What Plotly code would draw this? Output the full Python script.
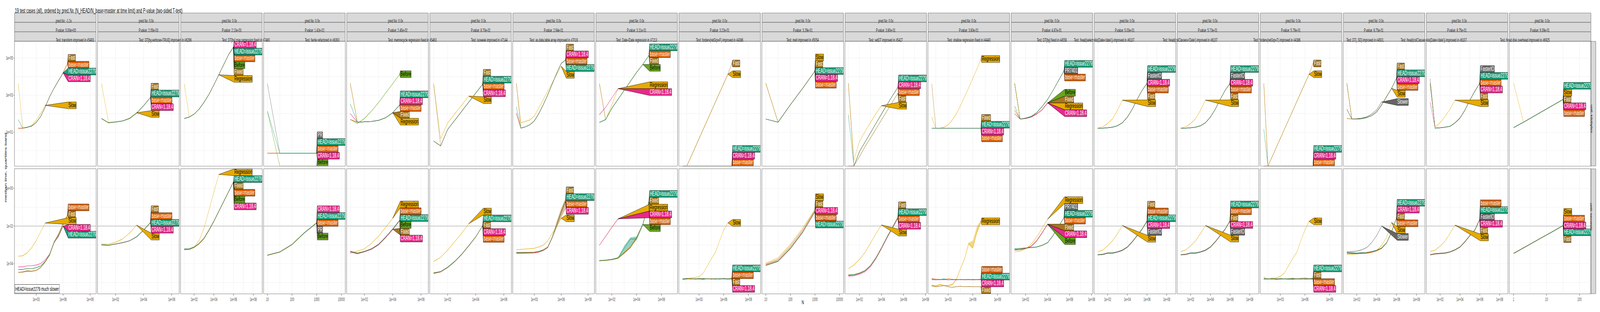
import math
import plotly.graph_objects as go

H = "HEAD=issue2279"
B = "base=master"
C = "CRAN=1.18.4"
Z = float("-inf")  # 0 kilobytes: log10(0), drawn on the panel floor like ggplot does

# N values (the kinks along each line)
N_half = [10, 31.62, 100, 316.2, 1000, 3162, 1e4, 3.162e4, 1e5, 3.162e5, 1e6, 3.162e6, 1e7]
N_pow2 = [1, 2, 4, 8, 16, 32]

test_names = [
    "transform improved in #5493",
    "DT[by,verbose=TRUE] improved in #6296",
    "DT[by] max regression fixed in #7480",
    "fwrite refactored in #6393",
    "memrecycle regression fixed in #5463",
    "isoweek improved in #7144",
    "as.data.table.array improved in #7019",
    "Date-IDate regression in #7213",
    "forderv(retGrp=F) improved in #4386",
    "melt improved in #5054",
    "setDT improved in #5427",
    "shallow regression fixed in #4440",
    "DT[by] fixed in #4558",
    "fread(select=list(Date='date')) improved in #6107",
    "fread(colClasses='Date') improved in #6107",
    "forderv(retGrp=T) improved in #4386",
    "DT[,.SD] improved in #4501",
    "fread(colClasses=list(Date='date')) improved in #6107",
    "fread disk overhead improved in #6925",
]
pred_nx = ["-1.2x"] + ["0.0x"] * 18
p_values = ["0.00e+00", "2.05e-03", "2.13e-03", "1.42e-02", "2.45e-02", "8.70e-02",
            "2.94e-01", "3.11e-01", "3.22e-01", "3.29e-01", "3.80e-01", "3.80e-01",
            "4.87e-01", "5.03e-01", "5.73e-01", "5.79e-01", "6.75e-01", "8.75e-01", "9.39e-01"]

x_tick_labels = [
    ["1e+03", "1e+06", "1e+09"],
    ["1e+02", "1e+04", "1e+06"],
    ["1e+02", "1e+04", "1e+06", "1e+08"],
    ["10", "100", "1000", "10000"],
    ["1e+02", "1e+04", "1e+06"],
    ["1e+02", "1e+04", "1e+06"],
    ["1e+03", "1e+06", "1e+09"],
    ["1e+02", "1e+04", "1e+06"],
    ["1e+03", "1e+06", "1e+09"],
    ["10", "100", "1000", "10000"],
    ["1e+02", "1e+04", "1e+06", "1e+08"],
    ["1e+03", "1e+06", "1e+09"],
    ["1e+02", "1e+04", "1e+06", "1e+08"],
    ["1e+02", "1e+04", "1e+06", "1e+08"],
    ["1e+02", "1e+04", "1e+06", "1e+08"],
    ["1e+03", "1e+06", "1e+09"],
    ["1e+02", "1e+04", "1e+06", "1e+08"],
    ["1e+02", "1e+04", "1e+06", "1e+08"],
    ["1", "10", "100"],
]
y_tick_labels = [["1e+01", "1e+03", "1e+05"], ["1e-04", "1e-02", "1e+00"]]
seconds_limit = 0.01
unit_names = ["unit: kilobytes", "unit: seconds"]

# medians as log10(kilobytes) / log10(seconds); dict order = direct label order, top to bottom
t01_kb = {
    "Fast": [1.22, 1.22, 1.27, 1.33, 1.52, 1.85, 2.35, 2.92, 3.38, 3.80, 4.21, 4.72],
    B: [1.22, 1.22, 1.27, 1.33, 1.52, 1.85, 2.35, 2.92, 3.38, 3.80, 4.21, 4.71],
    H: [1.68, 1.22, 1.27, 1.33, 1.52, 1.85, 2.35, 2.92, 3.38, 3.80, 4.21],
    C: [1.22, 1.22, 1.27, 1.33, 1.52, 1.85, 2.35, 2.92, 3.38, 3.80, 4.20],
    "Slow": [3.64, 1.22, 1.25, 1.37, 1.64, 2.02, 2.45],
}
t01_sec = {
    B: [-4.32, -4.30, -4.26, -4.26, -4.21, -4.12, -3.88, -3.51, -2.84, -2.48, -1.98, -1.40],
    "Fast": [-4.46, -4.44, -4.39, -4.40, -4.36, -4.20, -3.91, -3.53, -2.87, -2.45, -1.86, -1.42],
    "Slow": [-3.60, -3.58, -3.42, -3.15, -2.77, -2.30, -1.84],
    C: [-4.17, -4.17, -4.11, -4.11, -4.07, -3.99, -3.80, -3.49, -2.85, -2.55, -2.01],
    H: [-4.32, -4.30, -4.26, -4.26, -4.21, -4.12, -3.88, -3.51, -2.84, -2.50, -2.00],
}
t02_kb = {
    "Fast": [1.74, 1.51, 1.55, 1.61, 1.74, 2.03, 2.43, 2.89],
    H: [1.74, 1.51, 1.55, 1.61, 1.74, 2.03, 2.43, 2.89],
    B: [1.74, 1.51, 1.55, 1.61, 1.74, 2.03, 2.43, 2.89],
    C: [1.74, 1.51, 1.55, 1.61, 1.74, 2.03, 2.43, 2.89],
    "Slow": [3.62, 1.53, 1.56, 1.61, 1.76, 2.05],
}
t02_sec = {
    "Fast": [-2.99, -3.02, -2.95, -2.88, -2.78, -2.57, -2.21, -1.79],
    B: [-2.99, -3.02, -2.95, -2.88, -2.78, -2.57, -2.21, -1.80],
    H: [-2.99, -3.02, -2.95, -2.88, -2.78, -2.57, -2.21, -1.81],
    C: [-3.01, -3.03, -2.96, -2.89, -2.79, -2.58, -2.22, -1.82],
    "Slow": [-2.95, -2.97, -2.86, -2.69, -2.37, -1.95],
}
t03_kb = {
    C: [1.74, 1.82, 1.98, 2.24, 2.61, 3.04, 3.55, 4.10, 4.66, 5.19, 5.60],
    H: [1.74, 1.82, 1.98, 2.24, 2.61, 3.04, 3.55, 4.10, 4.66, 5.19, 5.60],
    B: [1.74, 1.82, 1.98, 2.24, 2.61, 3.04, 3.55, 4.10, 4.66, 5.19, 5.60],
    "Before": [1.74, 1.82, 1.98, 2.24, 2.61, 3.04, 3.55, 4.10, 4.66, 5.19, 5.60],
    "Fixed": [1.74, 1.82, 1.98, 2.24, 2.61, 3.04, 3.55, 4.10, 4.66, 5.19, 5.60],
    "Regression": [3.62, 1.81, 1.98, 2.24, 2.61, 3.04, 3.55, 4.10],
}
t03_sec = {
    "Regression": [-3.24, -3.21, -3.11, -2.78, -2.11, -1.16, -0.21, 0.74],
    H: [-3.21, -3.21, -3.11, -2.92, -2.64, -2.21, -1.73, -1.21, -0.69, -0.16, 0.36],
    "Fixed": [-3.23, -3.22, -3.12, -2.93, -2.65, -2.22, -1.74, -1.22, -0.70, -0.17, 0.35],
    B: [-3.24, -3.23, -3.13, -2.94, -2.66, -2.23, -1.75, -1.23, -0.71, -0.18, 0.35],
    "Before": [-3.26, -3.25, -3.14, -2.95, -2.67, -2.24, -1.76, -1.24, -0.72, -0.19, 0.34],
    C: [-3.22, -3.21, -3.12, -2.93, -2.65, -2.22, -1.75, -1.23, -0.71, -0.18, 0.34],
}
t04_kb = {
    "PR": [3.62, -0.13, -0.13, -0.13, -0.13],
    H: [2.13, -0.13, -0.13, -0.13, -0.13],
    B: [-0.13, -0.13, -0.13, -0.13, -0.13],
    C: [-0.13, -0.13, -0.13, -0.13, -0.13],
    "Before": [2.13, Z, Z, Z, Z],
}
t04_sec = {
    C: [-3.54, -3.37, -2.97, -2.35, -1.82],
    H: [-3.54, -3.37, -2.97, -2.35, -1.83],
    B: [-3.55, -3.38, -2.98, -2.36, -1.83],
    "PR": [-3.55, -3.38, -2.98, -2.36, -1.84],
    "Before": [-3.56, -3.39, -2.99, -2.37, -1.84],
}
t05_kb = {
    "Before": [1.69, 1.47, 1.74, 2.14, 2.60, 3.11, 3.63, 4.13],
    H: [2.53, 1.54, 1.56, 1.58, 1.64, 1.78, 2.05, 2.48],
    C: [2.00, 1.54, 1.56, 1.58, 1.64, 1.78, 2.05, 2.48],
    B: [1.69, 1.54, 1.56, 1.58, 1.64, 1.78, 2.05, 2.47],
    "Fixed": [3.64, 1.54, 1.56, 1.58, 1.64, 1.78, 2.05],
    "Regression": [3.64, 1.54, 1.56, 1.58, 1.64, 1.78, 2.05],
}
t05_sec = {
    "Regression": [-3.45, -3.33, -3.21, -2.92, -2.54, -2.07, -1.59],
    B: [-3.33, -3.43, -3.34, -3.20, -2.96, -2.58, -2.15, -1.68],
    H: [-3.35, -3.45, -3.35, -3.21, -2.97, -2.59, -2.16, -1.69],
    "Before": [-3.37, -3.47, -3.37, -3.23, -2.99, -2.61, -2.18, -1.70],
    "Fixed": [-3.36, -3.46, -3.36, -3.22, -2.98, -2.60, -2.17],
    C: [-3.38, -3.47, -3.37, -3.24, -3.00, -2.62, -2.19, -1.72],
}
t06_kb = {
    "Fast": [3.62, 0.26, 1.15, 1.64, 2.12, 2.62, 3.10, 3.60],
    H: [0.52, 0.26, 1.15, 1.64, 2.12, 2.62, 3.10, 3.60],
    B: [0.52, 0.26, 1.15, 1.64, 2.12, 2.62, 3.10, 3.60],
    C: [0.52, 0.26, 1.15, 1.64, 2.12, 2.62, 3.10, 3.60],
    "Slow": [3.62, 0.66, 1.50, 1.98, 2.46, 2.95],
}
t06_sec = {
    "Slow": [-3.88, -3.66, -3.28, -2.83, -2.38, -1.88],
    H: [-4.50, -4.42, -4.19, -3.88, -3.50, -3.05, -2.57, -1.97],
    "Fast": [-4.48, -4.41, -4.18, -3.87, -3.49, -3.04, -2.56, -1.97],
    C: [-4.52, -4.44, -4.20, -3.89, -3.51, -3.06, -2.58, -1.98],
    B: [-4.51, -4.43, -4.20, -3.89, -3.51, -3.06, -2.58, -1.98],
}
t07_kb = {
    "Fast": [3.64, 1.22, 1.29, 1.40, 1.61, 2.00, 2.48, 3.02, 3.60, 4.18, 4.71, 4.91],
    C: [2.05, 1.22, 1.29, 1.40, 1.61, 2.00, 2.48, 3.02, 3.60, 4.18, 4.71, 4.90],
    B: [2.00, 1.22, 1.29, 1.40, 1.61, 2.00, 2.48, 3.02, 3.60, 4.18, 4.71, 4.90],
    H: [2.37, 1.22, 1.29, 1.40, 1.61, 2.00, 2.48, 3.02, 3.60, 4.18, 4.71, 4.90],
    "Slow": [3.64, 1.51, 1.58, 1.66, 1.87, 2.32, 2.77, 3.22, 3.66, 4.12, 4.56],
}
t07_sec = {
    "Fast": [-3.42, -3.42, -3.42, -3.41, -3.40, -3.36, -3.28, -3.13, -2.60, -1.90, -1.22, -0.58],
    H: [-3.40, -3.40, -3.40, -3.39, -3.38, -3.34, -3.26, -3.11, -2.59, -1.92, -1.26, -0.64],
    B: [-3.43, -3.43, -3.43, -3.42, -3.41, -3.37, -3.28, -3.13, -2.60, -1.94, -1.28, -0.67],
    C: [-3.45, -3.45, -3.45, -3.44, -3.43, -3.39, -3.30, -3.14, -2.61, -1.95, -1.30, -0.70],
    "Slow": [-3.26, -3.24, -3.23, -3.21, -3.18, -3.11, -3.02, -2.78, -2.40, -2.02, -1.59],
}
t08_kb = {
    H: [1.53, 1.68, 2.29, 2.77, 3.26, 3.74, 4.23, 4.66, 5.15],
    B: [1.53, 1.68, 2.29, 2.77, 3.26, 3.74, 4.23, 4.66, 5.15],
    "Fixed": [3.62, 1.68, 2.29, 2.77, 3.26, 3.74, 4.23, 4.66, 5.15],
    "Before": [1.53, 1.68, 2.29, 2.77, 3.26, 3.74, 4.23, 4.66],
    "Regression": [3.62, 1.66, 2.48, 3.35],
    C: [1.95, 2.34, 2.85, 3.35],
}
t08_sec = {
    H: [-3.83, -3.81, -3.77, -3.68, -3.18, -2.69, -2.69, -1.92, -0.64],
    "Fixed": [-3.83, -3.81, -3.77, -3.68, -3.40, -3.11, -2.59, -1.92, -0.69],
    "Regression": [-3.02, -2.54, -2.07, -1.62],
    C: [-3.02, -2.54, -2.07, -1.62],
    B: [-3.85, -3.82, -3.78, -3.70, -3.42, -3.13, -2.62, -1.95, -0.72],
    "Before": [-3.85, -3.83, -3.79, -3.72, -3.45, -3.15, -2.65, -1.92],
}
t09_kb = {
    "Fast": [Z, Z, -0.34, 0.16, 0.65, 1.15, 1.65, 2.14, 2.64, 3.14, 3.63, 4.13, 4.71],
    "Slow": [Z, Z, -0.34, 0.16, 0.65, 1.15, 1.65, 2.14, 2.64, 3.14, 3.63, 4.13],
    H: [Z, Z, Z, Z, Z, Z, Z, Z, Z, Z, Z, Z, Z],
    C: [Z, Z, Z, Z, Z, Z, Z, Z, Z, Z, Z, Z, Z],
    B: [Z, Z, Z, Z, Z, Z, Z, Z, Z, Z, Z, Z, Z],
}
t09_sec = {
    "Slow": [-4.83, -4.78, -4.76, -4.73, -4.69, -4.50, -4.11, -3.73, -3.38, -2.78, -2.21, -1.83],
    H: [-4.80, -4.78, -4.82, -4.79, -4.81, -4.78, -4.80, -4.82, -4.79, -4.80, -4.78, -4.80, -4.77],
    B: [-4.82, -4.80, -4.79, -4.81, -4.80, -4.82, -4.79, -4.80, -4.81, -4.79, -4.80, -4.81, -4.79],
    "Fast": [-4.81, -4.79, -4.80, -4.80, -4.78, -4.80, -4.81, -4.79, -4.80, -4.82, -4.80, -4.79, -4.80],
    C: [-4.83, -4.81, -4.80, -4.82, -4.81, -4.83, -4.80, -4.81, -4.82, -4.80, -4.81, -4.82, -4.81],
}
t10_kb = {
    "Slow": [3.64, 1.54, 2.48, 3.37, 4.30],
    "Fast": [3.64, 1.54, 2.48, 3.37, 4.30],
    H: [1.71, 1.54, 2.48, 3.37, 4.30],
    C: [1.71, 1.54, 2.48, 3.37, 4.30],
    B: [1.71, 1.54, 2.48, 3.37, 4.30],
}
t10_sec = {
    "Slow": [-3.97, -3.69, -2.97, -2.11, -1.11],
    "Fast": [-4.02, -3.78, -3.07, -2.21, -1.16],
    C: [-4.07, -3.85, -3.16, -2.30, -1.21],
    B: [-4.08, -3.86, -3.18, -2.32, -1.23],
    H: [-4.10, -3.88, -3.21, -2.35, -1.26],
}
t11_kb = {
    H: [1.93, Z, -0.05, 0.45, 0.96, 1.47, 1.98, 2.48, 2.97, 3.43],
    C: [Z, Z, -0.05, 0.45, 0.96, 1.47, 1.98, 2.48, 2.97, 3.43],
    B: [Z, Z, -0.05, 0.45, 0.96, 1.47, 1.98, 2.48, 2.97, 3.43],
    "Fast": [3.64, Z, -0.32, 0.21, 0.69, 1.18, 1.66, 2.14, 2.63, 3.11],
    "Slow": [3.64, -0.52, 0.50, 1.03, 1.52, 2.00, 2.43],
}
t11_sec = {
    "Fast": [-4.59, -4.57, -4.49, -4.36, -4.09, -3.67, -3.14, -2.57, -2.05, -1.50],
    H: [-4.61, -4.59, -4.51, -4.38, -4.11, -3.69, -3.16, -2.59, -2.07, -1.54],
    B: [-4.62, -4.60, -4.52, -4.39, -4.12, -3.70, -3.17, -2.60, -2.08, -1.55],
    C: [-4.66, -4.64, -4.56, -4.43, -4.16, -3.74, -3.21, -2.64, -2.12, -1.59],
    "Slow": [-4.26, -4.07, -3.78, -3.40, -2.92, -2.40, -1.94],
}
t12_kb = {
    "Regression": [1.82, 1.22, 1.22, 1.27, 1.40, 1.66, 2.00, 2.43, 2.92, 3.40, 3.92, 4.42, 4.95],
    "Fixed": [3.62, 1.22, 1.22, 1.22, 1.22, 1.22, 1.22, 1.22, 1.22, 1.22, 1.22, 1.22, 1.22],
    H: [1.22, 1.22, 1.22, 1.22, 1.22, 1.22, 1.22, 1.22, 1.22, 1.22, 1.22, 1.22, 1.22],
    C: [1.22, 1.22, 1.22, 1.22, 1.22, 1.22, 1.22, 1.22, 1.22, 1.22, 1.22, 1.22, 1.22],
    B: [1.22, 1.22, 1.22, 1.22, 1.22, 1.22, 1.22, 1.22, 1.22, 1.22, 1.22, 1.22, 1.22],
}
t12_sec = {
    "Regression": [-5.14, -5.18, -5.11, -5.16, -5.16, -5.11, -4.83, -4.26, -3.73, -2.92, -3.16, -2.30, -1.75],
    B: [-4.78, -4.82, -4.83, -4.85, -4.80, -4.83, -4.85, -4.83, -4.84, -4.85, -4.83, -4.84, -4.82],
    H: [-4.83, -4.85, -4.84, -4.80, -4.86, -4.84, -4.83, -4.85, -4.84, -4.83, -4.85, -4.84, -4.83],
    C: [-4.85, -4.86, -4.85, -4.84, -4.86, -4.85, -4.86, -4.84, -4.86, -4.85, -4.86, -4.85, -4.85],
    "Fixed": [-5.18, -5.22, -5.20, -5.16, -5.22, -5.25, -5.22, -5.20, -5.22, -5.21, -5.22, -5.22, -5.22],
}
t13_kb = {
    H: [2.41, 1.71, 1.76, 1.85, 2.05, 2.39, 2.77, 3.26, 3.79, 4.32],
    "PR7401": [3.64, 1.71, 1.76, 1.85, 2.05, 2.39, 2.77, 3.26, 3.79, 4.32],
    B: [2.19, 1.71, 1.76, 1.85, 2.05, 2.39, 2.77, 3.26, 3.79, 4.32],
    "Before": [3.64, 1.71, 1.74, 1.82, 1.98, 2.21, 2.58],
    "Fixed": [3.64, 1.71, 1.74, 1.82, 1.98, 2.21, 2.58],
    "Regression": [3.64, 1.71, 1.74, 1.82, 1.98, 2.21, 2.58],
    C: [2.00, 1.71, 1.74, 1.82, 1.98, 2.21, 2.58],
}
t13_sec = {
    "Regression": [-3.37, -3.33, -3.21, -2.97, -2.59, -2.11, -1.64],
    "PR7401": [-3.21, -3.19, -3.16, -3.14, -3.11, -3.02, -2.88, -2.50, -2.02, -1.54],
    H: [-3.21, -3.19, -3.16, -3.14, -3.11, -3.02, -2.88, -2.50, -2.02, -1.54],
    B: [-3.22, -3.20, -3.17, -3.15, -3.12, -3.03, -2.89, -2.51, -2.03, -1.55],
    "Fixed": [-3.26, -3.24, -3.18, -3.07, -2.78, -2.35, -1.90],
    C: [-3.27, -3.25, -3.19, -3.08, -2.79, -2.36, -1.90],
    "Before": [-3.28, -3.26, -3.20, -3.09, -2.80, -2.37, -1.91],
}
t14_kb = {
    H: [1.22, 1.22, 1.24, 1.27, 1.35, 1.51, 1.81, 2.24, 2.77, 3.26, 3.64],
    "FasterIO": [1.22, 1.22, 1.24, 1.27, 1.35, 1.51, 1.81, 2.24, 2.77, 3.26, 3.64],
    C: [1.22, 1.22, 1.24, 1.27, 1.35, 1.51, 1.81, 2.24, 2.77, 3.26, 3.64],
    B: [1.22, 1.22, 1.24, 1.27, 1.35, 1.51, 1.81, 2.24, 2.77, 3.26, 3.64],
    "Fast": [1.22, 1.22, 1.24, 1.27, 1.35, 1.51, 1.81, 2.24, 2.77, 3.26, 3.64],
    "Slow": [1.22, 1.29, 1.47, 1.73, 2.19, 2.73],
}
t14_sec = {
    "Fast": [-3.51, -3.49, -3.42, -3.42, -3.36, -3.27, -3.10, -2.82, -2.49, -2.15, -1.71],
    B: [-3.52, -3.50, -3.43, -3.43, -3.37, -3.28, -3.11, -2.83, -2.50, -2.16, -1.72],
    H: [-3.52, -3.50, -3.43, -3.43, -3.37, -3.28, -3.11, -2.83, -2.50, -2.16, -1.73],
    C: [-3.53, -3.51, -3.44, -3.44, -3.38, -3.29, -3.12, -2.84, -2.51, -2.17, -1.74],
    "FasterIO": [-3.54, -3.52, -3.45, -3.45, -3.39, -3.30, -3.13, -2.85, -2.52, -2.18, -1.75],
    "Slow": [-3.37, -3.28, -3.05, -2.78, -2.40, -1.97],
}
t15_kb = {
    H: [1.22, 1.22, 1.24, 1.27, 1.35, 1.51, 1.81, 2.24, 2.77, 3.26, 3.64],
    "FasterIO": [1.22, 1.22, 1.24, 1.27, 1.35, 1.51, 1.81, 2.24, 2.77, 3.26, 3.64],
    C: [1.22, 1.22, 1.24, 1.27, 1.35, 1.51, 1.81, 2.24, 2.77, 3.26, 3.64],
    B: [1.22, 1.22, 1.24, 1.27, 1.35, 1.51, 1.81, 2.24, 2.77, 3.26, 3.64],
    "Fast": [1.22, 1.22, 1.24, 1.27, 1.35, 1.51, 1.81, 2.24, 2.77, 3.26, 3.64],
    "Slow": [1.22, 1.29, 1.47, 1.73, 2.19, 2.73],
}
t15_sec = {
    H: [-3.51, -3.49, -3.42, -3.42, -3.36, -3.27, -3.10, -2.82, -2.49, -2.15, -1.70],
    B: [-3.52, -3.50, -3.43, -3.43, -3.37, -3.28, -3.11, -2.83, -2.50, -2.16, -1.71],
    "Fast": [-3.52, -3.50, -3.43, -3.43, -3.37, -3.28, -3.11, -2.83, -2.50, -2.16, -1.72],
    C: [-3.53, -3.51, -3.44, -3.44, -3.38, -3.29, -3.12, -2.84, -2.51, -2.17, -1.73],
    "FasterIO": [-3.54, -3.52, -3.45, -3.45, -3.39, -3.30, -3.13, -2.85, -2.52, -2.18, -1.74],
    "Slow": [-3.35, -3.27, -3.05, -2.78, -2.40, -1.97],
}
t16_kb = {
    "Fast": [3.64, Z, -0.34, 0.16, 0.65, 1.15, 1.65, 2.14, 2.64, 3.14, 3.63, 4.13, 4.71],
    "Slow": [3.64, Z, -0.34, 0.16, 0.65, 1.15, 1.65, 2.14, 2.64, 3.14, 3.63, 4.13],
    H: [1.17, Z, Z, Z, Z, Z, Z, Z, Z, Z, Z, Z, Z],
    C: [Z, Z, Z, Z, Z, Z, Z, Z, Z, Z, Z, Z, Z],
    B: [Z, Z, Z, Z, Z, Z, Z, Z, Z, Z, Z, Z, Z],
}
t16_sec = {
    "Slow": [-4.70, -4.83, -4.76, -4.76, -4.67, -4.50, -4.11, -3.73, -3.40, -2.78, -2.21, -1.75],
    H: [-4.78, -4.80, -4.79, -4.81, -4.78, -4.80, -4.79, -4.77, -4.80, -4.78, -4.76, -4.79, -4.77],
    "Fast": [-4.80, -4.81, -4.80, -4.79, -4.81, -4.80, -4.81, -4.80, -4.79, -4.81, -4.80, -4.80, -4.79],
    B: [-4.81, -4.80, -4.82, -4.80, -4.80, -4.81, -4.82, -4.80, -4.81, -4.80, -4.82, -4.81, -4.80],
    C: [-4.82, -4.82, -4.81, -4.83, -4.82, -4.81, -4.82, -4.83, -4.81, -4.82, -4.81, -4.82, -4.82],
}
t17_kb = {
    "Fast": [3.64, 1.71, 1.71, 1.73, 1.79, 1.90, 2.10, 2.48, 2.92, 3.37, 3.93],
    H: [2.24, 1.71, 1.71, 1.73, 1.79, 1.90, 2.10, 2.48, 2.92, 3.37, 3.92],
    C: [2.24, 1.71, 1.71, 1.73, 1.79, 1.90, 2.10, 2.48, 2.92, 3.37, 3.92],
    B: [1.74, 1.71, 1.71, 1.73, 1.79, 1.90, 2.10, 2.48, 2.92, 3.37, 3.92],
    "Slow": [3.64, 1.71, 1.71, 1.73, 1.79, 1.90, 2.10, 2.48, 2.92, 3.37],
    "Slower": [3.64, 1.71, 1.73, 1.76, 1.83, 1.98, 2.21, 2.63],
}
t17_sec = {
    H: [-3.40, -3.42, -3.43, -3.41, -3.40, -3.35, -3.28, -3.16, -2.88, -2.30, -1.54],
    C: [-3.41, -3.43, -3.44, -3.42, -3.41, -3.36, -3.29, -3.17, -2.89, -2.31, -1.55],
    "Fast": [-3.45, -3.46, -3.47, -3.46, -3.45, -3.40, -3.32, -3.19, -2.90, -2.32, -1.56],
    B: [-3.44, -3.45, -3.46, -3.45, -3.44, -3.39, -3.31, -3.18, -2.90, -2.33, -1.57],
    "Slow": [-3.50, -3.50, -3.48, -3.45, -3.43, -3.37, -3.30, -3.02, -2.59, -1.81],
    "Slower": [-3.37, -3.35, -3.33, -3.26, -3.14, -2.88, -2.50, -2.00],
}
t18_kb = {
    "FasterIO": [3.89, 1.22, 1.24, 1.27, 1.32, 1.50, 1.76, 2.19, 2.73, 3.21, 3.64],
    H: [3.64, 1.22, 1.24, 1.27, 1.32, 1.50, 1.76, 2.19, 2.73, 3.21, 3.64],
    B: [3.64, 1.22, 1.24, 1.27, 1.32, 1.50, 1.76, 2.19, 2.73, 3.21, 3.64],
    C: [2.63, 1.22, 1.24, 1.27, 1.32, 1.50, 1.76, 2.19, 2.73, 3.21, 3.64],
    "Fast": [3.64, 1.22, 1.24, 1.27, 1.32, 1.50, 1.76, 2.19, 2.73, 3.21, 3.64],
    "Slow": [3.64, 1.27, 1.51, 1.85, 2.24, 2.73],
}
t18_sec = {
    B: [-3.51, -3.46, -3.44, -3.42, -3.36, -3.25, -3.10, -2.82, -2.49, -2.20, -1.62],
    H: [-3.52, -3.47, -3.45, -3.43, -3.37, -3.26, -3.11, -2.83, -2.50, -2.21, -1.64],
    "FasterIO": [-3.53, -3.48, -3.46, -3.44, -3.38, -3.27, -3.12, -2.84, -2.51, -2.22, -1.65],
    C: [-3.53, -3.48, -3.46, -3.44, -3.38, -3.27, -3.12, -2.84, -2.51, -2.22, -1.66],
    "Fast": [-3.54, -3.49, -3.47, -3.45, -3.39, -3.28, -3.13, -2.85, -2.52, -2.23, -1.67],
    "Slow": [-3.35, -3.28, -3.07, -2.80, -2.40, -1.95],
}
t19_kb = {
    H: [1.25, 1.54, 1.85, 2.16, 2.46, 2.77],
    "Slow": [3.64, 1.54, 1.85, 2.16, 2.46, 2.77],
    "Fast": [1.25, 1.54, 1.85, 2.16, 2.46, 2.77],
    C: [1.25, 1.54, 1.85, 2.16, 2.46, 2.77],
    B: [1.25, 1.54, 1.85, 2.16, 2.46, 2.77],
}
t19_sec = {
    "Slow": [-3.44, -3.15, -2.86, -2.56, -2.27, -1.96],
    B: [-3.45, -3.15, -2.86, -2.56, -2.27, -1.97],
    C: [-3.45, -3.16, -2.86, -2.57, -2.27, -1.97],
    H: [-3.46, -3.16, -2.87, -2.57, -2.28, -1.97],
    "Fast": [-3.46, -3.16, -2.87, -2.57, -2.28, -1.98],
}

# quartile bands where they are wide enough to see: (panel index, row, series, q25, q75)
bands = [
    (0, 1, "Fast", [-4.48, -4.47, -4.43, -4.43, -4.38, -4.23, -3.95, -3.58, -2.93, -2.55, -1.92, -1.47],
                   [-4.44, -4.41, -4.34, -4.37, -4.33, -4.17, -3.87, -3.47, -2.80, -2.35, -1.80, -1.37]),
    (6, 1, "Fast", [-3.43, -3.43, -3.43, -3.42, -3.41, -3.38, -3.30, -3.16, -2.66, -2.10, -1.55, -1.10],
                   [-3.41, -3.41, -3.41, -3.40, -3.39, -3.34, -3.26, -3.10, -2.55, -1.75, -1.05, -0.52]),
    (7, 1, H, [-3.85, -3.83, -3.79, -3.70, -3.45, -3.10, -2.75, -1.97, -0.70],
              [-3.81, -3.79, -3.75, -3.66, -3.05, -2.60, -2.55, -1.85, -0.60]),
    (11, 1, "Regression", [-5.17, -5.21, -5.14, -5.19, -5.19, -5.14, -4.86, -4.29, -3.76, -2.99, -3.21, -2.40, -1.83],
                          [-5.11, -5.15, -5.08, -5.13, -5.13, -5.08, -4.80, -4.23, -3.70, -2.88, -2.78, -2.02, -1.69]),
]

panel_kb = [t01_kb, t02_kb, t03_kb, t04_kb, t05_kb, t06_kb, t07_kb, t08_kb, t09_kb, t10_kb,
            t11_kb, t12_kb, t13_kb, t14_kb, t15_kb, t16_kb, t17_kb, t18_kb, t19_kb]
panel_sec = [t01_sec, t02_sec, t03_sec, t04_sec, t05_sec, t06_sec, t07_sec, t08_sec, t09_sec, t10_sec,
             t11_sec, t12_sec, t13_sec, t14_sec, t15_sec, t16_sec, t17_sec, t18_sec, t19_sec]
panel_N = [N_half] * 18 + [N_pow2]

# ---- layout (pixels of the 7600x800 picture) ----
W, HT = 7600, 800
LEFT0, PITCH, PANEL_W = 69.3, 395.1, 387.7
ROWS = [(106.0, 425.6), (433.0, 753.0)]
y_ranges = [(-0.823, 5.905), (-5.59, 1.035)]
x_ranges = [(0.595, 9.669), (0.722, 6.53), (0.632, 8.905), (0.85, 4.156), (0.751, 6.514),
            (0.727, 6.534), (0.609, 9.697), (0.716, 7.29), (0.553, 10.46), (0.846, 4.162),
            (0.696, 8.09), (0.561, 10.47), (0.681, 8.10), (0.634, 8.91), (0.637, 8.91),
            (0.572, 10.48), (0.645, 8.84), (0.623, 8.83), (-0.128, 2.348)]
STRIPS = [(33.3, 57.0), (57.6, 81.2), (81.8, 106.0)]
FONT = "Liberation Sans, Arial, sans-serif"
LABEL_FONT = 16.6
BOX_H = 17.5

colors = {H: "#1B9E77", B: "#D95F02", C: "#E7298A", "Before": "#66A61E",
          "Regression": "#E6AB02", "Slow": "#E6AB02", "Fixed": "#A6761D", "Fast": "#A6761D",
          "PR": "#666666", "PR7401": "#666666", "FasterIO": "#666666", "Slower": "#666666"}
dark_text = {"Slow", "Regression", "Before"}
draw_order = ["PR", "PR7401", "FasterIO", "Slower", "Before", "Regression", "Slow",
              "Fixed", "Fast", C, B, H]

ARIAL = {'H': 722, 'E': 667, 'A': 667, 'D': 722, '=': 584, 'i': 222, 's': 500, 'u': 556,
         'e': 556, 'b': 556, 'a': 556, 'm': 833, 't': 278, 'r': 333, 'C': 722, 'R': 722,
         'N': 722, '.': 278, 'F': 611, 'S': 667, 'l': 222, 'o': 556, 'w': 722, 'B': 667,
         'f': 278, 'g': 556, 'n': 556, 'x': 500, 'd': 556, 'P': 667, 'I': 278, 'O': 778}


def text_width(s):
    return sum(ARIAL.get(ch, 556) for ch in s) * LABEL_FONT / 1000.0


def xlog_to_px(k, v):
    lo, hi = x_ranges[k]
    return LEFT0 + k * PITCH + (v - lo) / (hi - lo) * PANEL_W


def px_to_x(k, p):
    lo, hi = x_ranges[k]
    return 10 ** (lo + (p - LEFT0 - k * PITCH) / PANEL_W * (hi - lo))


def ylog_to_px(r, v):
    lo, hi = y_ranges[r]
    top, bot = ROWS[r]
    return top + (hi - v) / (hi - lo) * (bot - top)


def px_to_y(r, p):
    lo, hi = y_ranges[r]
    top, bot = ROWS[r]
    return 10 ** (hi - (p - top) / (bot - top) * (hi - lo))


def rgba(hex_color, a):
    h = hex_color.lstrip("#")
    return f"rgba({int(h[0:2], 16)},{int(h[2:4], 16)},{int(h[4:6], 16)},{a})"


def stack(targets, h, top, bot):
    # keep the given order, no overlap, as close as possible to the targets (PAVA)
    blocks = []
    for i, t in enumerate(targets):
        blocks.append([t - i * h, 1])
        while len(blocks) > 1 and blocks[-2][0] / blocks[-2][1] > blocks[-1][0] / blocks[-1][1]:
            s, c = blocks.pop()
            blocks[-1][0] += s
            blocks[-1][1] += c
    z = []
    for s, c in blocks:
        z += [s / c] * c
    n = len(targets)
    out = []
    for i, zi in enumerate(z):
        y = zi + i * h
        y = max(y, top + h / 2 + i * h)
        y = min(y, bot - h / 2 - (n - 1 - i) * h)
        out.append(y)
    return out


fig = go.Figure()

for k in range(19):
    N = panel_N[k]
    for r, data in enumerate((panel_kb[k], panel_sec[k])):
        ax = k + 1 + 19 * r
        xa = "x" if ax == 1 else f"x{ax}"
        ya = "y" if ax == 1 else f"y{ax}"
        ylo = y_ranges[r][0]
        common = dict(xaxis=xa, yaxis=ya, hoverinfo="skip", showlegend=False)
        if r == 1:
            xlo, xhi = x_ranges[k]
            fig.add_trace(go.Scatter(x=[10 ** xlo, 10 ** xhi], y=[seconds_limit, seconds_limit],
                                     mode="lines", line=dict(color="#BEBEBE", width=1.8), **common))
        for (bk, br, name, q25, q75) in bands:
            if bk == k and br == r:
                xs = N[:len(q25)]
                fig.add_trace(go.Scatter(x=xs + xs[::-1],
                                         y=[10 ** v for v in q75] + [10 ** v for v in q25[::-1]],
                                         mode="lines", fill="toself", fillcolor=rgba(colors[name], 0.45),
                                         line=dict(width=0), **common))
        for name in sorted(data, key=draw_order.index):
            vals = data[name]
            fig.add_trace(go.Scatter(x=N[:len(vals)], y=[10 ** max(v, ylo) for v in vals],
                                     mode="lines", line=dict(color=colors[name], width=1.2),
                                     **common))
        # direct labels: polygon from each line end to a box stacked at the right
        names = list(data)
        tips = []
        for name in names:
            vals = data[name]
            tips.append((xlog_to_px(k, math.log10(N[len(vals) - 1])),
                         ylog_to_px(r, max(vals[-1], ylo))))
        left = max(t[0] for t in tips) + 3
        centers = stack([t[1] for t in tips], BOX_H, *ROWS[r])
        lx, ly, lc = [], [], []
        for name, (tx, ty), yc in zip(names, tips, centers):
            w = text_width(name) + 2
            xs = [tx, left, left + w, left + w, left, tx]
            ys = [ty, yc - BOX_H / 2, yc - BOX_H / 2, yc + BOX_H / 2, yc + BOX_H / 2, ty]
            fig.add_trace(go.Scatter(x=[px_to_x(k, p) for p in xs], y=[px_to_y(r, p) for p in ys],
                                     mode="lines", fill="toself", fillcolor=colors[name],
                                     line=dict(color="black", width=0.9), **common))
            lx.append(px_to_x(k, left + w / 2))
            ly.append(px_to_y(r, yc + 0.5))
            lc.append("black" if name in dark_text else "white")
        fig.add_trace(go.Scatter(x=lx, y=ly, mode="text", text=names, textposition="middle center",
                                 textfont=dict(family=FONT, size=LABEL_FONT, color=lc),
                                 cliponaxis=True, **common))

layout = {}
for ax in range(1, 39):
    k = (ax - 1) % 19
    r = (ax - 1) // 19
    px0 = LEFT0 + k * PITCH
    px1 = px0 + PANEL_W
    top, bot = ROWS[r]
    labels = x_tick_labels[k]
    majors = [float(t) for t in labels]
    lg = [math.log10(v) for v in majors]
    step = lg[1] - lg[0]
    xminor = [10 ** (g - step / 2) for g in lg] + [10 ** (lg[-1] + step / 2)]
    ylabels = y_tick_labels[r]
    ymaj = [float(t) for t in ylabels]
    ylg = [math.log10(v) for v in ymaj]
    yminor = [10 ** (g - 1) for g in ylg] + [10 ** (ylg[-1] + 1)]
    xname = "xaxis" if ax == 1 else f"xaxis{ax}"
    yname = "yaxis" if ax == 1 else f"yaxis{ax}"
    layout[xname] = dict(
        type="log", range=list(x_ranges[k]), domain=[px0 / W, px1 / W],
        anchor="y" if ax == 1 else f"y{ax}",
        tickmode="array", tickvals=majors, ticktext=labels, showticklabels=(r == 1),
        ticks="outside" if r == 1 else "", ticklen=4, tickcolor="#333333", tickwidth=1,
        tickfont=dict(family=FONT, size=12, color="#4D4D4D"),
        showgrid=True, gridcolor="#EBEBEB", gridwidth=1.1, zeroline=False,
        minor=dict(tickmode="array", tickvals=xminor, showgrid=True, gridcolor="#EBEBEB",
                   gridwidth=0.55, ticks=""),
        showline=True, mirror=True, linecolor="#555555", linewidth=1, fixedrange=True,
    )
    layout[yname] = dict(
        type="log", range=list(y_ranges[r]), domain=[1 - bot / HT, 1 - top / HT],
        anchor="x" if ax == 1 else f"x{ax}",
        tickmode="array", tickvals=ymaj, ticktext=ylabels, showticklabels=(k == 0),
        ticks="outside" if k == 0 else "", ticklen=4, tickcolor="#333333", tickwidth=1,
        tickfont=dict(family=FONT, size=12, color="#4D4D4D"),
        showgrid=True, gridcolor="#EBEBEB", gridwidth=1.1, zeroline=False,
        minor=dict(tickmode="array", tickvals=yminor, showgrid=True, gridcolor="#EBEBEB",
                   gridwidth=0.55, ticks=""),
        showline=True, mirror=True, linecolor="#555555", linewidth=1, fixedrange=True,
    )

shapes, annotations = [], []
for k in range(19):
    px0 = LEFT0 + k * PITCH
    px1 = px0 + PANEL_W
    texts = [f"pred.Nx: {pred_nx[k]}", f"P.value: {p_values[k]}", f"Test: {test_names[k]}"]
    for (s0, s1), txt in zip(STRIPS, texts):
        shapes.append(dict(type="rect", xref="paper", yref="paper", x0=px0 / W, x1=px1 / W,
                           y0=1 - s1 / HT, y1=1 - s0 / HT, fillcolor="#D9D9D9",
                           line=dict(color="#555555", width=1), layer="below"))
        annotations.append(dict(xref="paper", yref="paper", x=(px0 + px1) / 2 / W,
                                y=1 - (s0 + s1) / 2 / HT, text=txt, showarrow=False,
                                font=dict(family=FONT, size=12, color="#1A1A1A")))
for r in range(2):
    top, bot = ROWS[r]
    shapes.append(dict(type="rect", xref="paper", yref="paper", x0=7568 / W, x1=7592 / W,
                       y0=1 - bot / HT, y1=1 - top / HT, fillcolor="#D9D9D9",
                       line=dict(color="#555555", width=1), layer="below"))
    annotations.append(dict(xref="paper", yref="paper", x=7580 / W, y=1 - (top + bot) / 2 / HT,
                            text=unit_names[r], textangle=90, showarrow=False,
                            font=dict(family=FONT, size=12, color="#1A1A1A")))

annotations.append(dict(xref="paper", yref="paper", x=LEFT0 / W, y=1 - 16 / HT, xanchor="left",
                        text="19 test cases (all), ordered by pred.Nx (N_HEAD/N_base=master at time limit) "
                             "and P-value (two-sided T-test)",
                        showarrow=False, font=dict(family=FONT, size=16.5, color="black")))
annotations.append(dict(xref="paper", yref="paper", x=15 / W, y=1 - 429.5 / HT, textangle=-90,
                        text="median line, quartiles band", showarrow=False,
                        font=dict(family=FONT, size=15, color="black")))
annotations.append(dict(xref="paper", yref="paper", x=(LEFT0 + 18 * PITCH + PANEL_W + LEFT0) / 2 / W,
                        y=1 - 785 / HT, text="N", showarrow=False,
                        font=dict(family=FONT, size=15, color="black")))
annotations.append(dict(xref="paper", yref="paper", x=(LEFT0 + 1) / W, y=1 - 752 / HT,
                        xanchor="left", yanchor="bottom", text="HEAD=issue2279 much slower",
                        showarrow=False, bgcolor="white", bordercolor="#333333", borderwidth=1,
                        borderpad=2, font=dict(family=FONT, size=15, color="black")))

fig.update_layout(width=W, height=HT, margin=dict(l=0, r=0, t=0, b=0),
                  paper_bgcolor="white", plot_bgcolor="white", showlegend=False,
                  font=dict(family=FONT), shapes=shapes, annotations=annotations, **layout)

# the window can be smaller than 7600x800 css px: stretch the figure to fill it
fit_script = """
var gd = document.getElementById('{plot_id}');
var wrap = gd.parentElement;
var sx = window.innerWidth / 7600;
var sy = window.innerHeight / 800;
document.documentElement.style.margin = '0';
document.body.style.margin = '0';
document.documentElement.style.overflow = 'hidden';
document.body.style.overflow = 'hidden';
wrap.style.width = window.innerWidth + 'px';
wrap.style.height = window.innerHeight + 'px';
wrap.style.overflow = 'hidden';
gd.style.transformOrigin = '0 0';
gd.style.transform = 'scale(' + sx + ',' + sy + ')';
"""

fig.write_html("out.html", post_script=fit_script, config={"displayModeBar": False})
